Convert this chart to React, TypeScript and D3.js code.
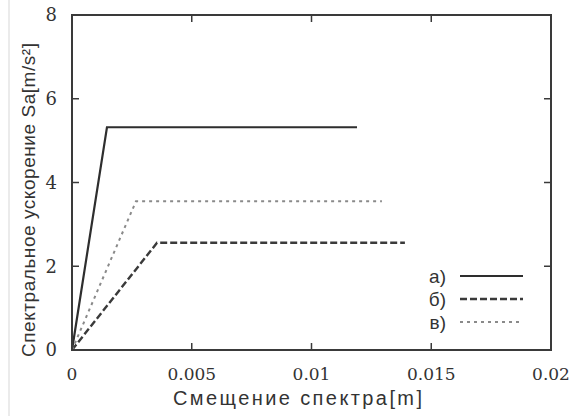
import { useEffect, useRef } from 'react';
import * as d3 from 'd3';

// spectrum series: [displacement m, acceleration m/s²]
const seriesA: [number, number][] = [[0, 0], [0.00146, 5.32], [0.0119, 5.32]];
const seriesB: [number, number][] = [[0, 0], [0.00355, 2.56], [0.0139, 2.56]];
const seriesV: [number, number][] = [[0, 0], [0.00267, 3.55], [0.01294, 3.55]];
const legendLabels = ['а)', 'б)', 'в)'];
const xTicks = [0, 0.005, 0.01, 0.015, 0.02];
const xTickLabels = ['0', '0.005', '0.01', '0.015', '0.02'];
const yTicks = [0, 2, 4, 6, 8];

export default function App() {
    const svgRef = useRef<SVGSVGElement | null>(null);

    useEffect(() => {
        document.body.style.margin = '0';
        if (!svgRef.current) return;
        const svg = d3.select(svgRef.current);
        svg.selectAll('*').remove();

        const width = 578;
        const height = 416;
        const left = 72, right = 551, top = 15, bottom = 350;

        const x = d3.scaleLinear().domain([0, 0.02]).range([left, right]);
        const y = d3.scaleLinear().domain([0, 8]).range([bottom, top]);

        svg.attr('width', width).attr('height', height).style('display', 'block');

        svg.append('rect').attr('width', width).attr('height', height).attr('fill', '#fff');

        // faint scan edge on the left
        svg.append('line')
            .attr('x1', 9).attr('x2', 9).attr('y1', 0).attr('y2', height)
            .attr('stroke', '#e4e4e4').attr('stroke-width', 1.5);

        const axisColor = '#3a3a3a';
        const serif = "'DejaVu Serif', 'Liberation Serif', serif";
        const sans = "'Liberation Sans', Arial, sans-serif";

        // ticks (inward, mirrored)
        const tickLen = 7;
        xTicks.forEach((t) => {
            svg.append('line')
                .attr('x1', x(t)).attr('x2', x(t))
                .attr('y1', bottom).attr('y2', bottom - tickLen)
                .attr('stroke', axisColor).attr('stroke-width', 1.5);
            svg.append('line')
                .attr('x1', x(t)).attr('x2', x(t))
                .attr('y1', top).attr('y2', top + tickLen)
                .attr('stroke', axisColor).attr('stroke-width', 1.5);
        });
        yTicks.forEach((t) => {
            svg.append('line')
                .attr('x1', left).attr('x2', left + tickLen)
                .attr('y1', y(t)).attr('y2', y(t))
                .attr('stroke', axisColor).attr('stroke-width', 1.5);
            svg.append('line')
                .attr('x1', right).attr('x2', right - tickLen)
                .attr('y1', y(t)).attr('y2', y(t))
                .attr('stroke', axisColor).attr('stroke-width', 1.5);
        });

        // tick labels
        xTicks.forEach((t, i) => {
            svg.append('text')
                .attr('x', x(t)).attr('y', 380)
                .attr('text-anchor', 'middle')
                .style('font-family', serif).style('font-size', '17px')
                .attr('fill', '#333')
                .text(xTickLabels[i]);
        });
        yTicks.forEach((t) => {
            svg.append('text')
                .attr('x', 57).attr('y', y(t)).attr('dy', '0.36em')
                .attr('text-anchor', 'end')
                .style('font-family', serif).style('font-size', '18px')
                .attr('fill', '#333')
                .text(t);
        });

        // axis titles
        svg.append('text')
            .attr('x', 173).attr('y', 405)
            .attr('textLength', 249).attr('lengthAdjust', 'spacing')
            .style('font-family', sans).style('font-size', '20px')
            .attr('fill', '#333')
            .text('Смещение спектра[m]');

        svg.append('text')
            .attr('transform', 'translate(35, 357) rotate(-90)')
            .attr('textLength', 314).attr('lengthAdjust', 'spacing')
            .style('font-family', sans).style('font-size', '19px')
            .attr('fill', '#333')
            .text('Спектральное ускорение Sa[m/s²]');

        // series
        const line = d3.line<[number, number]>().x((d) => x(d[0])).y((d) => y(d[1]));
        const styles = [
            { data: seriesA, color: '#2e2e2e', dash: null, width: 2.2 },
            { data: seriesB, color: '#3a3a3a', dash: '7,3', width: 2.4 },
            { data: seriesV, color: '#8a8a8a', dash: '3,4', width: 2 },
        ];
        styles.forEach((s) => {
            svg.append('path')
                .attr('d', line(s.data))
                .attr('fill', 'none')
                .attr('stroke', s.color)
                .attr('stroke-width', s.width)
                .attr('stroke-dasharray', s.dash);
        });

        // legend
        const legendY = [276, 299, 322];
        styles.forEach((s, i) => {
            svg.append('text')
                .attr('x', 446).attr('y', legendY[i]).attr('dy', '0.35em')
                .attr('text-anchor', 'end')
                .style('font-family', sans).style('font-size', '19px')
                .attr('fill', '#333')
                .text(legendLabels[i]);
            svg.append('line')
                .attr('x1', 460).attr('x2', 523)
                .attr('y1', legendY[i]).attr('y2', legendY[i])
                .attr('stroke', s.color)
                .attr('stroke-width', s.width)
                .attr('stroke-dasharray', s.dash);
        });

        // frame
        svg.append('rect')
            .attr('x', left).attr('y', top)
            .attr('width', right - left).attr('height', bottom - top)
            .attr('fill', 'none')
            .attr('stroke', axisColor).attr('stroke-width', 2);
    }, []);

    return <svg ref={svgRef}></svg>;
}
